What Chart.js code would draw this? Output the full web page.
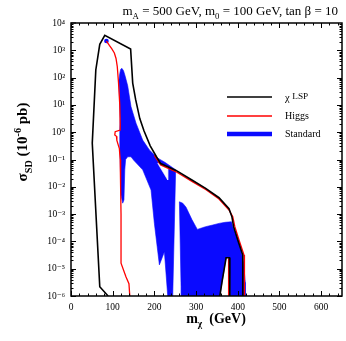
<!DOCTYPE html>
<html><head><meta charset="utf-8">
<script src="https://cdn.jsdelivr.net/npm/chart.js@4/dist/chart.umd.min.js"></script>
<style>html,body{margin:0;padding:0;background:#fff}#wrap{width:346px;height:341px}</style>
</head><body><div id="wrap"><canvas id="c" width="346" height="341"></canvas></div>
<script>
// ---- data (x = m_chi in GeV, second value = log10 of sigma_SD in 1e-6 pb) ----
const xTicks = [0, 100, 200, 300, 400, 500, 600];
const yTicks = [1e-6, 1e-5, 1e-4, 1e-3, 1e-2, 1e-1, 1e0, 1e1, 1e2, 1e3, 1e4];
const yTickLabels = ['10⁻⁶','10⁻⁵','10⁻⁴','10⁻³','10⁻²','10⁻¹','10⁰','10¹','10²','10³','10⁴'];
const seriesNames = ['χ LSP', 'Higgs', 'Standard'];

const lspOutlineLog = [[89,-6],[69,-5.66],[51,-0.4],[59.5,2.28],[69,3.22],[81,3.55],[143,3.05],[148,1.8],[155,1.2],[165,0.5],[175,0.05],[190,-0.5],[205,-0.9],[215,-1.15],[252,-1.4],[290,-1.75],[323,-2.06],[355,-2.4],[379,-2.8],[386,-3.1],[390,-3.46],[400,-3.95],[412,-4.5],[412,-6]];
const lspArchLog = [[357,-6],[362,-5.5],[367,-5.05],[372,-4.6],[380,-4.6],[381,-6]];

const higgsLeftLog = [[85,3.34],[92,3.18],[98,3.05],[104,2.9],[108,2.7],[111,2.4],[114,1.8],[117,1.0],[118,0.3],[118,0.08],[106,0.02],[105,-0.1],[109,-0.15],[110,-0.3],[116,-0.6],[118,-1.0],[119,-2.0],[120,-3.0],[120,-4.8],[132,-5.3],[139,-5.55],[141,-6]];
const higgsRightLog = [[200,-0.85],[215,-1.2],[252,-1.45],[290,-1.8],[323,-2.1],[355,-2.45],[379,-2.85],[388,-3.1],[393,-3.46],[403,-3.95],[415,-4.5],[416,-6]];
const higgsArchLog = [[378,-4.62],[378,-6]];

const standardMainLog = [[115,1.9],[117,2.15],[119,2.3],[122,2.34],[126,2.25],[130,2.05],[136,1.7],[144,0.93],[156,0.33],[172,-0.29],[188,-0.65],[208,-0.95],[225,-1.1],[244,-1.3],[251,-1.38],[244,-6],[232,-6],[224,-4.38],[212,-4.86],[200,-3.34],[192,-2.12],[172,-1.38],[150,-1.02],[144,-0.9],[136,-0.9],[131,-1.0],[129,-1.38],[127,-2.48],[124,-2.6],[120,-2.3],[118,-1.0],[117,-0.5],[117,0.0],[118,0.5],[117,1.0],[115,1.9]];
const standardRightLog = [[260,-2.55],[268,-2.6],[276,-2.75],[290,-3.2],[303,-3.56],[315,-3.5],[323,-3.46],[340,-3.4],[355,-3.34],[370,-3.3],[385,-3.28],[388,-3.45],[392,-3.6],[400,-3.9],[406,-4.19],[414,-4.8],[418,-5.5],[418,-6],[382,-6],[381,-4.58],[372,-4.58],[357,-6],[265,-6],[264,-5.66],[260,-2.55]];
const standardHoleLog = [[208,-1.14],[232,-1.26],[232,-1.75],[208,-1.14]];
const standardDotLog = [[85,3.34]];

// ---- build ----
const pts = a => a.map(([x, l]) => ({x: x, y: Math.pow(10, l)}));
const BLUE = '#0a0aff', RED = '#ff0000', BLACK = '#000000';
const SERIF = '"Liberation Serif", "DejaVu Serif", serif';

function poly(data, color, order, label) {
  return {label: label, data: pts(data), fill: 'shape', backgroundColor: color, borderColor: color,
          borderWidth: 0.6, pointRadius: 0, order: order, tension: 0};
}
function line(data, color, width, order, label) {
  return {label: label, data: pts(data), fill: false, borderColor: color, borderWidth: width,
          pointRadius: 0, order: order, tension: 0};
}

function drawRich(ctx, parts, x, y, size, weight) {
  let cx = x;
  for (const p of parts) {
    const r = p.r || 0.68;
    const s = (p.sub || p.sup) ? size * r : size;
    ctx.font = `${weight} ${s}px ${SERIF}`;
    const dy = p.sub ? size * 0.3 : (p.sup ? -size * (p.up || 0.38) : 0);
    ctx.fillText(p.t, cx, y + dy);
    cx += ctx.measureText(p.t).width;
  }
  return cx - x;
}
function richWidth(ctx, parts, size, weight) {
  let w = 0;
  for (const p of parts) {
    const r = p.r || 0.68;
    const s = (p.sub || p.sup) ? size * r : size;
    ctx.font = `${weight} ${s}px ${SERIF}`;
    w += ctx.measureText(p.t).width;
  }
  return w;
}

const decorPlugin = {
  id: 'decor',
  afterDraw(chart) {
    const ctx = chart.ctx, a = chart.chartArea;
    const xs = chart.scales.x, ys = chart.scales.y;
    ctx.save();
    ctx.strokeStyle = '#000'; ctx.fillStyle = '#000';
    // frame
    ctx.lineWidth = 1.5;
    ctx.strokeRect(a.left, a.top, a.right - a.left, a.bottom - a.top);
    // ticks
    ctx.lineWidth = 1;
    ctx.beginPath();
    for (let v = 0; v <= 650; v += 20) {
      const px = Math.round(xs.getPixelForValue(v)) + 0.5;
      const len = (v % 100 === 0) ? 5 : 2.5;
      ctx.moveTo(px, a.bottom); ctx.lineTo(px, a.bottom - len);
      ctx.moveTo(px, a.top); ctx.lineTo(px, a.top + len);
    }
    for (let e = -6; e < 4; e++) {
      for (let k = 1; k < 10; k++) {
        const py = Math.round(ys.getPixelForValue(k * Math.pow(10, e))) + 0.5;
        const len = k === 1 ? 5 : 2.5;
        ctx.moveTo(a.left, py); ctx.lineTo(a.left + len, py);
        ctx.moveTo(a.right, py); ctx.lineTo(a.right - len, py);
      }
    }
    const pyTop = ys.getPixelForValue(1e4);
    ctx.moveTo(a.left, pyTop); ctx.lineTo(a.left + 5, pyTop);
    ctx.stroke();

    // title
    ctx.textBaseline = 'alphabetic'; ctx.textAlign = 'left';
    const title = [{t:'m'},{t:'A',sub:true},{t:' = 500 GeV, m'},{t:'0',sub:true},{t:' = 100 GeV, tan β = 10'}];
    const tw = richWidth(ctx, title, 13, 'normal');
    drawRich(ctx, title, 338 - tw, 15, 13, 'normal');

    // x-axis title
    const xt = [{t:'m'},{t:'χ',sub:true},{t:'  (GeV)'}];
    const xw = richWidth(ctx, xt, 14, 'bold');
    drawRich(ctx, xt, 216 - xw / 2, 323, 14, 'bold');

    // y-axis title
    ctx.save();
    ctx.translate(27, 142);
    ctx.rotate(-Math.PI / 2);
    const yt = [{t:'σ'},{t:'SD',sub:true},{t:' (10'},{t:'-6',sup:true},{t:' pb)'}];
    const yw = richWidth(ctx, yt, 15, 'bold');
    drawRich(ctx, yt, -yw / 2, 0, 15, 'bold');
    ctx.restore();

    // legend
    const items = [
      {c: BLACK, w: 1.6, y: 97, name: seriesNames[0]},
      {c: RED, w: 1.6, y: 116, name: seriesNames[1]},
      {c: BLUE, w: 4.5, y: 134, name: seriesNames[2]}
    ];
    ctx.textBaseline = 'middle';
    for (const it of items) {
      ctx.strokeStyle = it.c; ctx.lineWidth = it.w;
      ctx.beginPath(); ctx.moveTo(227, it.y); ctx.lineTo(272, it.y); ctx.stroke();
      ctx.fillStyle = '#000';
      if (it.name === 'χ LSP') {
        drawRich(ctx, [{t:'χ '},{t:'LSP',sup:true,r:0.88,up:0.18}], 285, it.y + 1, 10.5, 'normal');
      } else {
        ctx.font = `10px ${SERIF}`;
        ctx.fillText(it.name, 285, it.y);
      }
    }
    ctx.restore();
  }
};

new Chart(document.getElementById('c'), {
  type: 'line',
  data: {
    datasets: [
      line(lspOutlineLog, BLACK, 1.6, 1, seriesNames[0]),
      line(lspArchLog, BLACK, 1.6, 1, seriesNames[0]),
      line(higgsLeftLog, RED, 1.3, 2, seriesNames[1]),
      line(higgsRightLog, RED, 1.3, 2, seriesNames[1]),
      line(higgsArchLog, RED, 1.3, 2, seriesNames[1]),
      {label: seriesNames[2], data: pts(standardDotLog), showLine: false, pointRadius: 2.3,
       pointBackgroundColor: BLUE, pointBorderColor: BLUE, pointBorderWidth: 0, order: 3},
      poly(standardHoleLog, '#ffffff', 4, 'hole'),
      poly(standardMainLog, BLUE, 5, seriesNames[2]),
      poly(standardRightLog, BLUE, 5, seriesNames[2])
    ]
  },
  options: {
    responsive: false, animation: false, devicePixelRatio: 1,
    layout: {padding: {top: 23, right: 1, left: 0, bottom: 0}},
    plugins: {legend: {display: false}, tooltip: {enabled: false}},
    scales: {
      x: {
        type: 'linear', min: 0, max: 650,
        afterBuildTicks: s => { s.ticks = xTicks.map(v => ({value: v})); },
        afterFit: s => { s.height = 45; },
        grid: {display: false, drawTicks: false}, border: {display: false},
        ticks: {color: '#000', font: {family: SERIF, size: 9.5}, padding: 6, maxRotation: 0, autoSkip: false}
      },
      y: {
        type: 'logarithmic', min: 1e-6, max: 1e4,
        afterBuildTicks: s => { s.ticks = yTicks.map(v => ({value: v})); },
        afterFit: s => { s.width = 71; },
        grid: {display: false, drawTicks: false}, border: {display: false},
        ticks: {color: '#000', font: {family: SERIF, size: 9.5}, padding: 6, autoSkip: false,
                callback: v => { const i = yTicks.findIndex(t => Math.abs(Math.log10(t) - Math.log10(v)) < 1e-6); return i >= 0 ? yTickLabels[i] : ''; }}
      }
    }
  },
  plugins: [decorPlugin]
});
</script></body></html>
